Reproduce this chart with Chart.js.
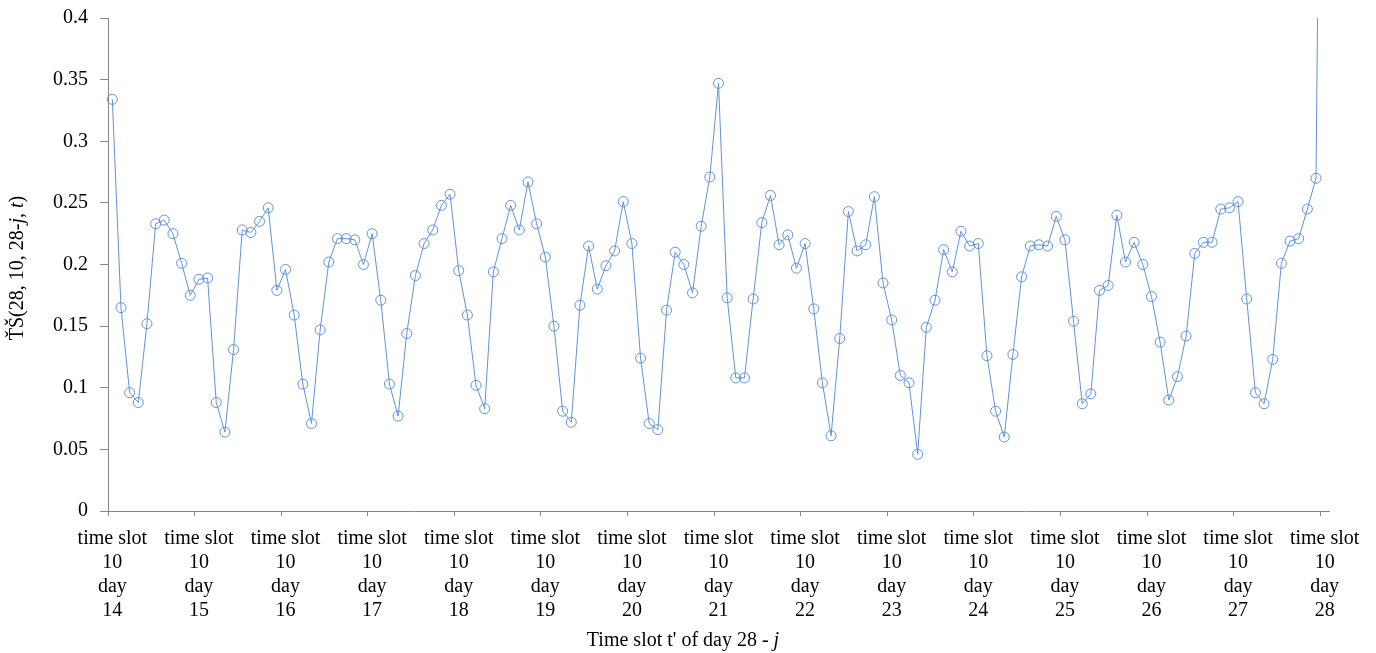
<!DOCTYPE html>
<html>
<head>
<meta charset="utf-8">
<script src="https://cdn.jsdelivr.net/npm/chart.js@4"></script>
<style>
  html, body { margin: 0; padding: 0; background: #fff; }
  #wrap { width: 1376px; height: 653px; position: relative; }
</style>
</head>
<body>
<div id="wrap"><canvas id="tsChart"></canvas></div>
<script>
// jours et créneaux de l'axe x (10 créneaux par jour, de "day 14 slot 10" à "day 28 slot 10")
const days = [14, 15, 16, 17, 18, 19, 20, 21, 22, 23, 24, 25, 26, 27, 28];
const slots = [1, 2, 3, 4, 5, 6, 7, 8, 9, 10];

// valeurs
const tsValues = [
  0.334, 0.165, 0.096, 0.088, 0.152, 0.233, 0.236, 0.225, 0.201, 0.175,
  0.188, 0.189, 0.088, 0.064, 0.131, 0.228, 0.226, 0.235, 0.246, 0.179,
  0.196, 0.159, 0.103, 0.071, 0.147, 0.202, 0.221, 0.221, 0.220, 0.200,
  0.225, 0.171, 0.103, 0.077, 0.144, 0.191, 0.217, 0.228, 0.248, 0.257,
  0.195, 0.159, 0.102, 0.083, 0.194, 0.221, 0.248, 0.228, 0.267, 0.233,
  0.206, 0.150, 0.081, 0.072, 0.167, 0.215, 0.180, 0.199, 0.211, 0.251,
  0.217, 0.124, 0.071, 0.066, 0.163, 0.210, 0.200, 0.177, 0.231, 0.271,
  0.347, 0.173, 0.108, 0.108, 0.172, 0.234, 0.256, 0.216, 0.224, 0.197,
  0.217, 0.164, 0.104, 0.061, 0.140, 0.243, 0.211, 0.216, 0.255, 0.185,
  0.155, 0.110, 0.104, 0.046, 0.149, 0.171, 0.212, 0.194, 0.227, 0.215,
  0.217, 0.126, 0.081, 0.060, 0.127, 0.190, 0.215, 0.216, 0.215, 0.239,
  0.220, 0.154, 0.087, 0.095, 0.179, 0.183, 0.240, 0.202, 0.218, 0.200,
  0.174, 0.137, 0.090, 0.109, 0.142, 0.209, 0.218, 0.218, 0.245, 0.246,
  0.251, 0.172, 0.096, 0.087, 0.123, 0.201, 0.219, 0.221, 0.245, 0.270,
  1
];

const yTickLabels = ["0", "0.05", "0.1", "0.15", "0.2", "0.25", "0.3", "0.35", "0.4"];

const SERIF = "'Liberation Serif', 'Times New Roman', serif";
const AXIS_GREY = "#868686";
const LINE_BLUE = "#5f93d8";

// catégories : day 14 slot 10, puis slots 1..10 des jours 15..28
const categories = [{ day: days[0], slot: 10 }];
days.slice(1).forEach(d => slots.forEach(s => categories.push({ day: d, slot: s })));
const labels = categories.map(c => `time slot ${c.slot} day ${c.day}`);

// titres des axes dessinés à la main (pour avoir j et t en italique)
const axisTitles = {
  id: "axisTitles",
  afterDraw(chart) {
    const ctx = chart.ctx;
    const drawParts = (parts, x, y, rot) => {
      ctx.save();
      ctx.translate(x, y);
      ctx.rotate(rot);
      ctx.fillStyle = "#000";
      ctx.textBaseline = "middle";
      ctx.textAlign = "left";
      let total = 0;
      parts.forEach(p => { ctx.font = (p.i ? "italic " : "") + "20px " + SERIF; total += ctx.measureText(p.t).width; });
      let cx = -total / 2;
      parts.forEach(p => {
        ctx.font = (p.i ? "italic " : "") + "20px " + SERIF;
        ctx.fillText(p.t, cx, 0);
        cx += ctx.measureText(p.t).width;
      });
      ctx.restore();
    };
    drawParts([{ t: "ŤŠ(28, 10, 28-" }, { t: "j", i: true }, { t: ", " }, { t: "t", i: true }, { t: ")" }],
      18, 268, -Math.PI / 2);
    drawParts([{ t: "Time slot t' of day 28 - " }, { t: "j", i: true }], 683, 641, 0);
  }
};

new Chart(document.getElementById("tsChart"), {
  type: "line",
  data: {
    labels: labels,
    datasets: [{
      label: "TS",
      data: tsValues,
      borderColor: LINE_BLUE,
      borderWidth: 1,
      pointRadius: 5,
      pointBorderWidth: 1,
      pointBorderColor: LINE_BLUE,
      pointBackgroundColor: "rgba(0,0,0,0)",
      tension: 0
    }]
  },
  options: {
    responsive: true,
    maintainAspectRatio: false,
    animation: false,
    layout: { padding: { top: 18, right: 47, left: 0, bottom: 0 } },
    plugins: { legend: { display: false }, tooltip: { enabled: false } },
    scales: {
      x: {
        type: "category",
        offset: true,
        afterFit: (scale) => { scale.height = 142; },
        border: { display: true, color: AXIS_GREY, width: 1 },
        grid: {
          offset: true,
          drawOnChartArea: false,
          drawTicks: true,
          tickLength: 5,
          color: (c) => (c.index !== undefined && c.index % 10 === 0) ? AXIS_GREY : "rgba(0,0,0,0)"
        },
        ticks: {
          autoSkip: false,
          maxRotation: 0,
          minRotation: 0,
          padding: 11,
          color: "#000",
          font: { family: SERIF, size: 20 },
          callback: (v, i) => i % 10 === 0 ? ["time slot", String(categories[i].slot), "day", String(categories[i].day)] : ""
        }
      },
      y: {
        min: 0,
        max: 0.4,
        afterFit: (scale) => {
          scale.width = 108;
          scale.paddingTop = 6;
          scale.paddingBottom = 6;
        },
        border: { display: true, color: AXIS_GREY, width: 1 },
        grid: { drawOnChartArea: false, drawTicks: true, tickLength: 8, color: AXIS_GREY },
        ticks: {
          stepSize: 0.05,
          padding: 12,
          color: "#000",
          font: { family: SERIF, size: 20 },
          callback: (v, i) => yTickLabels[i]
        }
      }
    }
  },
  plugins: [axisTitles]
});
</script>
</body>
</html>
